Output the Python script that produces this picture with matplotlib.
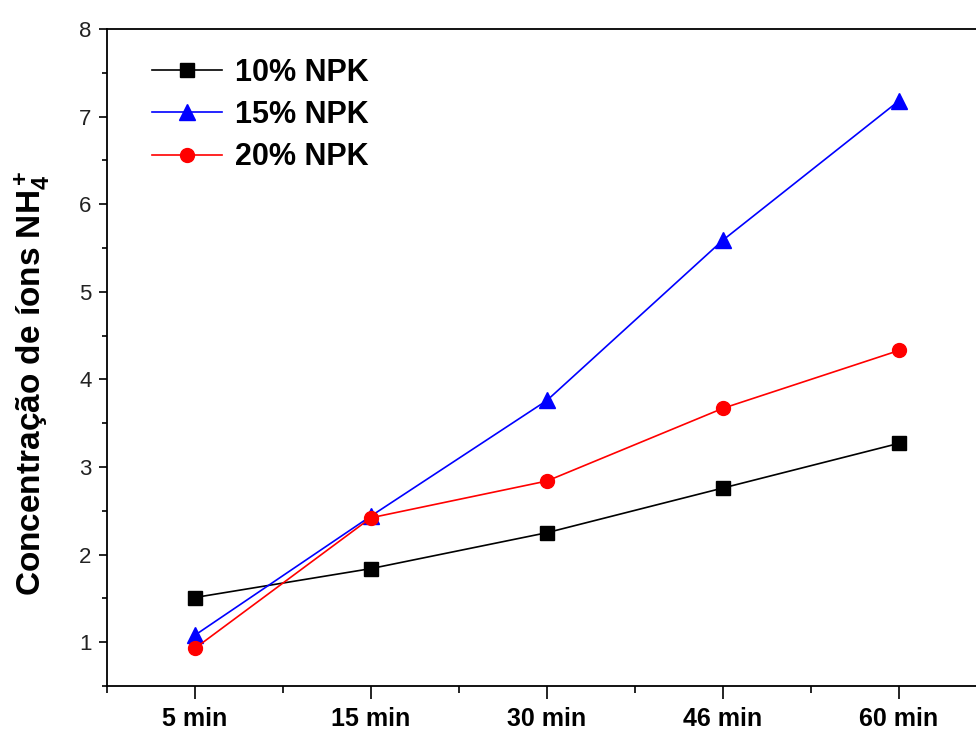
import numpy as np
import matplotlib
matplotlib.use('Agg')
import matplotlib.pyplot as plt
from matplotlib.ticker import MultipleLocator, FixedLocator

plt.rcParams['font.family'] = 'Liberation Sans'
plt.rcParams['mathtext.fontset'] = 'custom'
plt.rcParams['mathtext.rm'] = 'Liberation Sans:bold'
plt.rcParams['mathtext.it'] = 'Liberation Sans:bold'
plt.rcParams['mathtext.bf'] = 'Liberation Sans:bold'

# Time points and NH4+ concentration for each NPK dose
times = ['5 min', '15 min', '30 min', '46 min', '60 min']
npk10 = [1.51, 1.84, 2.25, 2.76, 3.27]
npk15 = [1.08, 2.44, 3.76, 5.59, 7.18]
npk20 = [0.93, 2.42, 2.84, 3.67, 4.33]

x = np.arange(len(times))

fig = plt.figure(figsize=(9.76, 7.31), dpi=100)
# axes runs a bit past the right edge of the figure
ax = fig.add_axes([0.1096, 0.0616, 0.9016, 0.8987])

ax.plot(x, npk10, color='black', marker='s', markersize=10, lw=1.2, label='10% NPK')
ax.plot(x, npk15, color='blue', marker='^', markersize=11, lw=1.2, label='15% NPK')
ax.plot(x, npk20, color='red', marker='o', markersize=10, lw=1.2, label='20% NPK')

ax.set_xlim(-0.5, 4.5)
ax.set_ylim(0.5, 8)
ax.set_xticks(x)
ax.set_xticklabels(times, fontsize=18, fontweight='bold')
ax.xaxis.set_minor_locator(FixedLocator([-0.5, 0.5, 1.5, 2.5, 3.5]))
ax.yaxis.set_major_locator(MultipleLocator(1))
ax.yaxis.set_minor_locator(MultipleLocator(0.5))
ax.set_yticks(range(1, 9))
ax.tick_params(axis='y', which='major', direction='out', length=6, width=1.2,
               labelsize=16, labelcolor='#222222', pad=5)
ax.tick_params(axis='y', which='minor', direction='out', length=3.5, width=1.2)
ax.tick_params(axis='x', which='major', direction='out', length=9.4, width=1.2, pad=6)
ax.tick_params(axis='x', which='minor', direction='out', length=5, width=1.2)
for s in ax.spines.values():
    s.set_linewidth(1.3)

ax.set_ylabel(r'Concentração de íons NH$_4^+$', fontsize=24, fontweight='bold')
ax.yaxis.set_label_coords(-0.063, 0.46)

ax.legend(loc='upper left', frameon=False, prop={'weight': 'bold', 'size': 22},
          handlelength=2.3, handletextpad=0.4, labelspacing=0.4,
          bbox_to_anchor=(0.02, 0.998))

fig.savefig('out.png', dpi=100)
